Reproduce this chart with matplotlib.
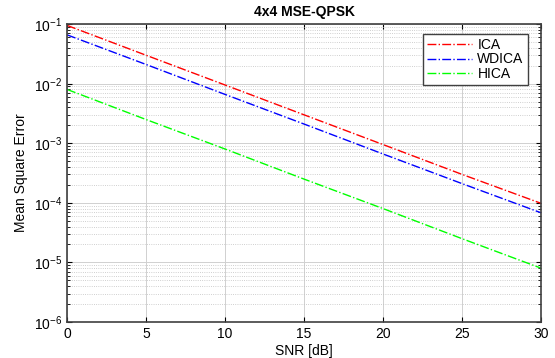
import matplotlib
matplotlib.use('Agg')
import matplotlib.pyplot as plt
from matplotlib.ticker import MultipleLocator, LogLocator, NullFormatter

# SNR points and MSE curves
snr = [0, 5, 10, 15, 20, 25, 30]
ica = [0.095, 0.030, 0.0095, 0.0030, 0.00095, 0.00030, 0.000098]
wdica = [0.066, 0.021, 0.0066, 0.0021, 0.00066, 0.00021, 0.000068]
hica = [0.0080, 0.0025, 0.00080, 0.00025, 0.000080, 0.000025, 0.0000080]

plt.rcParams['font.family'] = ['Liberation Sans', 'DejaVu Sans']

fig = plt.figure(figsize=(5.55, 3.58), dpi=100)
ax = fig.add_axes([0.121, 0.1006, 0.854, 0.832])

ax.semilogy(snr, ica, color='#ff0000', linestyle='-.', linewidth=1.0, label='ICA')
ax.semilogy(snr, wdica, color='#0000ff', linestyle='-.', linewidth=1.0, label='WDICA')
ax.semilogy(snr, hica, color='#00ff00', linestyle='-.', linewidth=1.0, label='HICA')

ax.set_xlim(0, 30)
ax.set_ylim(1e-6, 1e-1)
ax.xaxis.set_major_locator(MultipleLocator(5))
ax.yaxis.set_major_locator(LogLocator(base=10, numticks=10))
ax.yaxis.set_minor_locator(LogLocator(base=10, subs=range(2, 10), numticks=10))
ax.yaxis.set_minor_formatter(NullFormatter())

ax.grid(True, which='major', color='#d0d0d0', linestyle='-', linewidth=0.7)
ax.grid(True, which='minor', axis='y', color='#c0c0c0', linestyle=':', linewidth=0.6)
ax.set_axisbelow(True)

ax.tick_params(which='both', direction='in', top=True, right=True, labelsize=10)
ax.tick_params(which='minor', length=2)
for s in ax.spines.values():
    s.set_color('#404040')
    s.set_linewidth(1.2)

ax.set_title('4x4 MSE-QPSK', fontsize=10, fontweight='bold')
ax.set_xlabel('SNR [dB]', fontsize=10, labelpad=2)
ax.set_ylabel('Mean Square Error', fontsize=10)

leg = ax.legend(loc='upper right', bbox_to_anchor=(0.972, 0.967), fontsize=10,
                fancybox=False, framealpha=1, edgecolor='#404040',
                handlelength=3.2, handletextpad=0.4, borderpad=0.3,
                labelspacing=0.02, borderaxespad=0)
leg.get_frame().set_linewidth(1.0)

fig.savefig('out.png', dpi=100)
